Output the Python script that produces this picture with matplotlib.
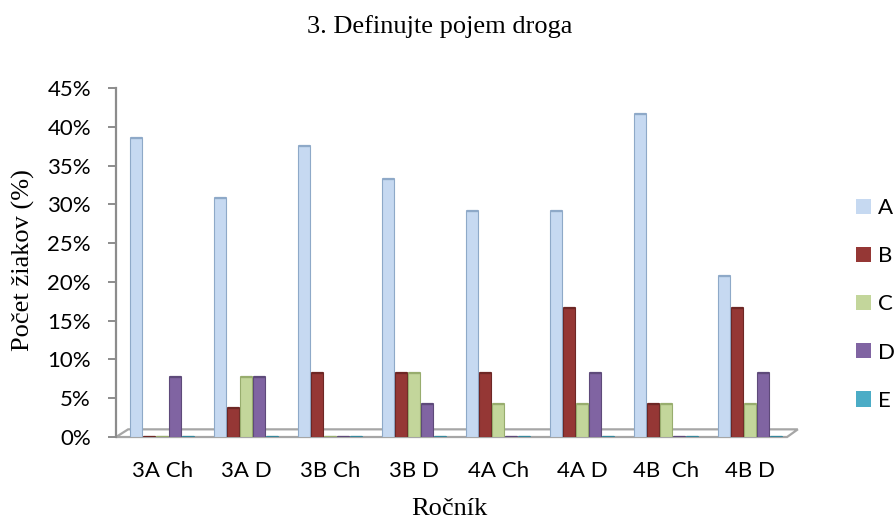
import numpy as np
import matplotlib.pyplot as plt
from matplotlib.patches import Polygon

categories = ["3A Ch", "3A D", "3B Ch", "3B D", "4A Ch", "4A D", "4B  Ch", "4B D"]
series_names = ["A", "B", "C", "D", "E"]
A = [38.5, 30.8, 37.5, 33.3, 29.2, 29.2, 41.7, 20.8]
B = [0.0, 3.8, 8.3, 8.3, 8.3, 16.7, 4.2, 16.7]
C = [0.0, 7.7, 0.0, 8.3, 4.2, 4.2, 4.2, 4.2]
D = [7.7, 7.7, 0.0, 4.2, 0.0, 8.3, 0.0, 8.3]
E = [0.0, 0.0, 0.0, 0.0, 0.0, 0.0, 0.0, 0.0]
yticks = [0, 5, 10, 15, 20, 25, 30, 35, 40, 45]

colors = ["#C6D9F1", "#953735", "#C3D69B", "#8064A2", "#4BACC6"]
edges = ["#8EA9C8", "#6E2725", "#98AD6E", "#5E4A7A", "#35879C"]

fig = plt.figure(figsize=(8.94, 5.23), dpi=100)
ax = fig.add_axes([0.1298, 0.1644, 0.7506, 0.6673])

x = np.arange(len(categories))
w = 0.155
for i, vals in enumerate([A, B, C, D, E]):
    xs = x + (i - 2) * w
    ax.bar(xs, vals, width=w * 0.92, color=colors[i], edgecolor=edges[i],
           linewidth=0.8, label=series_names[i], zorder=3)
    # flat caps on top of the cylinders (also the small marks for zero values)
    ax.plot(np.vstack([xs - w * 0.42, xs + w * 0.42]),
            np.vstack([vals, vals]), color=edges[i], lw=1.6, zorder=4,
            solid_capstyle="round")

ax.set_xlim(-0.548, 7.44)
ax.set_ylim(0, 45)

# floor of the pseudo-3d chart
floor = Polygon([[0.0, 0.0], [1.0, 0.0], [1.016, 0.022], [0.018, 0.022]],
                closed=True, transform=ax.transAxes, facecolor="white",
                edgecolor="#A6A6A6", lw=1.6, zorder=2, clip_on=False)
ax.add_patch(floor)

ax.set_yticks(yticks)
ax.set_yticklabels([f"{t}%" for t in yticks], family="Lato", fontsize=16)
ax.set_xticks(x)
ax.set_xticklabels(categories, family="Lato", fontsize=16)
ax.tick_params(axis="x", length=0, pad=17)
ax.tick_params(axis="y", length=6, color="#8C8C8C", width=1.4, pad=12)

for s in ["top", "right", "bottom"]:
    ax.spines[s].set_visible(False)
ax.spines["left"].set_color("#8C8C8C")
ax.spines["left"].set_linewidth(1.6)

fig.text(0.492, 0.950, "3. Definujte pojem droga", family="Liberation Serif",
         fontsize=19, ha="center", va="center")
fig.text(0.026, 0.503, "Počet žiakov (%)", family="Liberation Serif",
         fontsize=19, ha="center", va="center", rotation=90)
fig.text(0.503, 0.027, "Ročník", family="Liberation Serif",
         fontsize=19, ha="center", va="center")

leg = fig.legend(loc="center left", bbox_to_anchor=(0.9575, 0.418), frameon=False,
                 prop={"family": "Lato", "size": 16}, handlelength=0.68,
                 handleheight=0.68, labelspacing=1.27, handletextpad=0.32,
                 borderpad=0, borderaxespad=0)
for h in leg.legend_handles:
    h.set_linewidth(0)

fig.savefig("out.png", dpi=100)
